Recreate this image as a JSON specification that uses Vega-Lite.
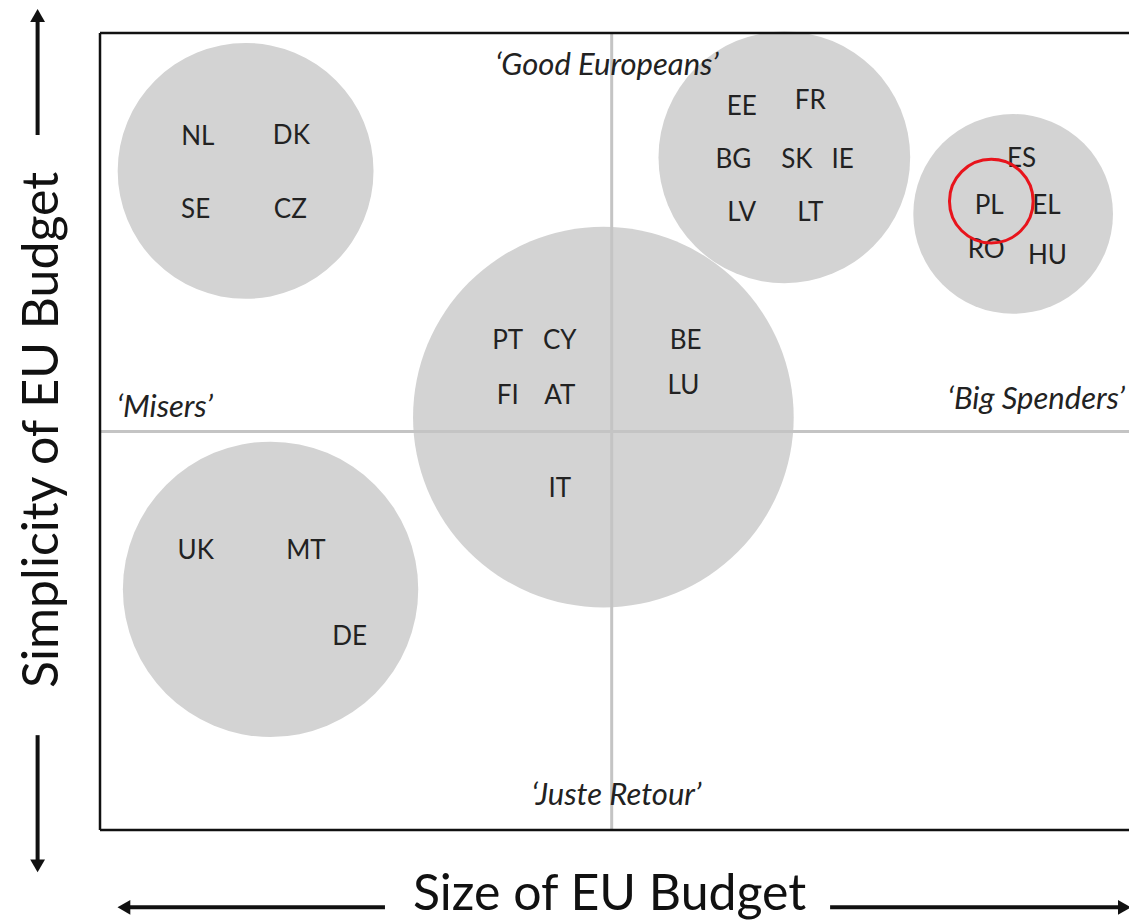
{
  "$schema": "https://vega.github.io/schema/vega-lite/v6.json",
  "width": 1029,
  "height": 797,
  "autosize": {"type": "none"},
  "padding": {"left": 100, "top": 33, "right": 0, "bottom": 94},
  "background": "white",
  "config": {"view": {"stroke": null}},
  "datasets": {
    "bubbles": [
      {"group": "Misers top", "x": 1.40, "y": 8.27, "r": 1.23},
      {"group": "Good Europeans", "x": 6.58, "y": 8.44, "r": 1.21},
      {"group": "Big Spenders", "x": 8.78, "y": 7.73, "r": 0.96},
      {"group": "Centre", "x": 4.84, "y": 5.18, "r": 1.83},
      {"group": "Juste Retour", "x": 1.64, "y": 3.02, "r": 1.42}
    ],
    "countries": [
      {"code": "NL", "x": 0.94, "y": 8.70}, {"code": "DK", "x": 1.84, "y": 8.71},
      {"code": "SE", "x": 0.92, "y": 7.78}, {"code": "CZ", "x": 1.83, "y": 7.78},
      {"code": "EE", "x": 6.17, "y": 9.07}, {"code": "FR", "x": 6.83, "y": 9.15},
      {"code": "BG", "x": 6.09, "y": 8.41}, {"code": "SK", "x": 6.70, "y": 8.41},
      {"code": "IE", "x": 7.14, "y": 8.41}, {"code": "LV", "x": 6.17, "y": 7.74},
      {"code": "LT", "x": 6.83, "y": 7.74},
      {"code": "ES", "x": 8.86, "y": 8.42}, {"code": "PL", "x": 8.55, "y": 7.83},
      {"code": "EL", "x": 9.10, "y": 7.83}, {"code": "RO", "x": 8.52, "y": 7.28},
      {"code": "HU", "x": 9.11, "y": 7.20},
      {"code": "PT", "x": 3.92, "y": 6.14}, {"code": "CY", "x": 4.42, "y": 6.14},
      {"code": "BE", "x": 5.63, "y": 6.14}, {"code": "LU", "x": 5.61, "y": 5.57},
      {"code": "FI", "x": 3.92, "y": 5.45}, {"code": "AT", "x": 4.42, "y": 5.45},
      {"code": "IT", "x": 4.42, "y": 4.28},
      {"code": "UK", "x": 0.92, "y": 3.50}, {"code": "MT", "x": 1.98, "y": 3.50},
      {"code": "DE", "x": 2.40, "y": 2.42}
    ],
    "highlight": [
      {"code": "PL", "x": 8.57, "y": 7.89}
    ],
    "quadrants": [
      {"label": "‘Good Europeans’", "x": 3.80, "y": 9.59},
      {"label": "‘Misers’", "x": 0.16, "y": 5.29},
      {"label": "‘Big Spenders’", "x": 8.15, "y": 5.40},
      {"label": "‘Juste Retour’", "x": 4.15, "y": 0.43}
    ],
    "divider": [
      {"x": 4.92, "x2": 4.92, "y": 0, "y2": 10},
      {"x": 0, "x2": 9.894, "y": 5.0, "y2": 5.0}
    ],
    "frame": [
      {"x": 0, "x2": 9.894, "y": 10, "y2": 10},
      {"x": 0, "x2": 9.894, "y": 0, "y2": 0},
      {"x": 0, "x2": 0, "y": 0, "y2": 10}
    ],
    "shafts": [
      {"x": 0.28, "x2": 2.74, "y": -0.97, "y2": -0.97},
      {"x": 7.02, "x2": 9.80, "y": -0.97, "y2": -0.97},
      {"x": -0.60, "x2": -0.60, "y": 8.72, "y2": 10.15},
      {"x": -0.60, "x2": -0.60, "y": 1.19, "y2": -0.38}
    ],
    "heads": [
      {"x": 0.23, "y": -0.97, "dir": "triangle-left"},
      {"x": 9.85, "y": -0.97, "dir": "triangle-right"},
      {"x": -0.60, "y": 10.22, "dir": "triangle-up"},
      {"x": -0.60, "y": -0.45, "dir": "triangle-down"}
    ],
    "titles": [
      {"label": "Size of EU Budget", "x": 4.90, "y": -0.82, "angle": 0},
      {"label": "Simplicity of EU Budget", "x": -0.55, "y": 5.02, "angle": 270}
    ]
  },
  "layer": [
    {
      "data": {"name": "bubbles"},
      "mark": {"type": "point", "shape": "circle", "filled": true, "color": "#d3d3d3", "opacity": 1, "strokeWidth": 0},
      "encoding": {
        "x": {"field": "x", "type": "quantitative", "scale": {"domain": [0, 9.894], "nice": false, "zero": false}, "axis": null},
        "y": {"field": "y", "type": "quantitative", "scale": {"domain": [0, 10], "nice": false, "zero": false}, "axis": null},
        "size": {"field": "r", "type": "quantitative", "scale": {"type": "pow", "exponent": 2, "domain": [0, 1], "range": [0, 43264]}, "legend": null}
      }
    },
    {
      "data": {"name": "divider"},
      "mark": {"type": "rule", "color": "#c4c4c4", "strokeWidth": 3},
      "encoding": {
        "x": {"field": "x", "type": "quantitative", "axis": null},
        "x2": {"field": "x2"},
        "y": {"field": "y", "type": "quantitative", "axis": null},
        "y2": {"field": "y2"}
      }
    },
    {
      "data": {"name": "frame"},
      "mark": {"type": "rule", "color": "#111111", "strokeWidth": 2.5},
      "encoding": {
        "x": {"field": "x", "type": "quantitative", "axis": null},
        "x2": {"field": "x2"},
        "y": {"field": "y", "type": "quantitative", "axis": null},
        "y2": {"field": "y2"}
      }
    },
    {
      "data": {"name": "countries"},
      "mark": {"type": "text", "font": "Lato", "fontSize": 26, "color": "#222222", "align": "center", "baseline": "middle"},
      "encoding": {
        "x": {"field": "x", "type": "quantitative", "axis": null},
        "y": {"field": "y", "type": "quantitative", "axis": null},
        "text": {"field": "code"}
      }
    },
    {
      "data": {"name": "highlight"},
      "mark": {"type": "point", "shape": "circle", "filled": false, "color": "#e8141c", "opacity": 1, "strokeWidth": 3, "size": 7000},
      "encoding": {
        "x": {"field": "x", "type": "quantitative", "axis": null},
        "y": {"field": "y", "type": "quantitative", "axis": null}
      }
    },
    {
      "data": {"name": "quadrants"},
      "mark": {"type": "text", "font": "Lato", "fontStyle": "italic", "fontSize": 31, "color": "#222222", "align": "left", "baseline": "middle"},
      "encoding": {
        "x": {"field": "x", "type": "quantitative", "axis": null},
        "y": {"field": "y", "type": "quantitative", "axis": null},
        "text": {"field": "label"}
      }
    },
    {
      "data": {"name": "shafts"},
      "mark": {"type": "rule", "color": "#111111", "strokeWidth": 4},
      "encoding": {
        "x": {"field": "x", "type": "quantitative", "axis": null},
        "x2": {"field": "x2"},
        "y": {"field": "y", "type": "quantitative", "axis": null},
        "y2": {"field": "y2"}
      }
    },
    {
      "data": {"name": "heads"},
      "mark": {"type": "point", "filled": true, "color": "#111111", "opacity": 1, "size": 220, "strokeWidth": 0},
      "encoding": {
        "x": {"field": "x", "type": "quantitative", "axis": null},
        "y": {"field": "y", "type": "quantitative", "axis": null},
        "shape": {"field": "dir", "type": "nominal", "scale": null, "legend": null}
      }
    },
    {
      "data": {"name": "titles"},
      "mark": {"type": "text", "font": "Lato", "fontSize": 50, "color": "#111111", "align": "center", "baseline": "middle"},
      "encoding": {
        "x": {"field": "x", "type": "quantitative", "axis": null},
        "y": {"field": "y", "type": "quantitative", "axis": null},
        "text": {"field": "label"},
        "angle": {"field": "angle", "type": "quantitative", "scale": null}
      }
    }
  ]
}
